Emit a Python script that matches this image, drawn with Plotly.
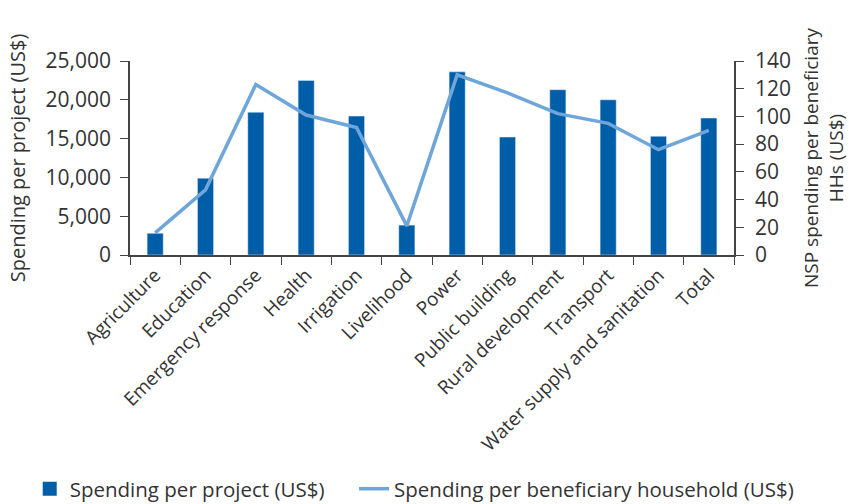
import plotly.graph_objects as go

categories = ["Agriculture", "Education", "Emergency response", "Health", "Irrigation",
              "Livelihood", "Power", "Public building", "Rural development", "Transport",
              "Water supply and sanitation", "Total"]
spending_per_project = [2800, 9900, 18400, 22500, 17900, 3850, 23600, 15200, 21300, 20000, 15300, 17650]
spending_per_household = [16, 47, 123, 101, 92, 21, 130, 117, 102, 95, 76, 90]

BAR = "#005DA8"
LINE = "#6FA6DA"
TXT = "#333333"
FONT = "Open Sans"

fig = go.Figure()
fig.add_trace(go.Bar(x=categories, y=spending_per_project, name="Spending per project (US$)",
                     marker_color=BAR, width=0.32, yaxis="y", showlegend=False))
# legend-only entry with a larger square symbol
fig.add_trace(go.Scatter(x=[None], y=[None], mode="markers", name="Spending per project (US$)",
                         marker=dict(symbol="square", size=14, color=BAR), legend="legend"))
fig.add_trace(go.Scatter(x=categories, y=spending_per_household, mode="lines",
                         name="Spending per beneficiary household (US$)",
                         line=dict(color=LINE, width=3.5), yaxis="y2", legend="legend2"))

leg_common = dict(orientation="h", xref="container", yref="container",
                  xanchor="left", yanchor="middle", font=dict(size=20.5, color=TXT),
                  itemwidth=30, bgcolor="rgba(0,0,0,0)")

fig.update_layout(
    width=849, height=504,
    margin=dict(l=130, r=115, t=61, b=249),
    plot_bgcolor="white", paper_bgcolor="white",
    font=dict(family=FONT, size=19, color=TXT),
    showlegend=True,
    legend=dict(x=0.035, y=0.03, **leg_common),
    legend2=dict(x=0.417, y=0.03, **leg_common),
    xaxis=dict(showline=True, linecolor="#444", linewidth=1.5, ticks="outside",
               tickson="boundaries", ticklen=8, tickcolor="#444", tickangle=-45,
               tickfont=dict(size=19, color=TXT), showgrid=False, automargin=False),
    yaxis=dict(range=[0, 25000], dtick=5000, tickformat=",d", showline=True, linecolor="#444",
               linewidth=1.5, ticks="outside", ticklen=8, tickcolor="#444", showgrid=False,
               zeroline=False, tickfont=dict(size=21, color=TXT), automargin=False,
               ticklabelstandoff=5,
               title=dict(text="Spending per project (US$)", font=dict(size=20, color=TXT), standoff=15)),
    yaxis2=dict(range=[0, 140], dtick=20, overlaying="y", side="right", showline=True,
                linecolor="#444", linewidth=1.5, ticks="outside", ticklen=8, tickcolor="#444",
                showgrid=False, zeroline=False, tickfont=dict(size=21, color=TXT), automargin=False,
                ticklabelstandoff=7,
                title=dict(text="NSP spending per beneficiary<br>HHs (US$)",
                           font=dict(size=19, color=TXT), standoff=22)),
)

fig.write_html("out.html", config={"displayModeBar": False},
               post_script="document.body.style.margin='0';")
